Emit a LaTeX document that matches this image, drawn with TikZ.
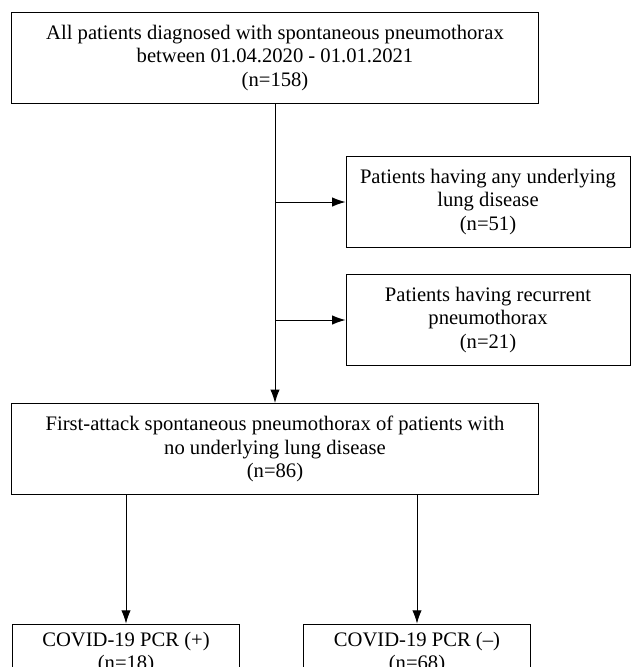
\documentclass[tikz,border=0pt]{standalone}
\usepackage{fontspec}
\setmainfont{Liberation Serif}
\usetikzlibrary{arrows.meta,positioning}
\tikzset{%
	process/.style  = {draw, rectangle, semithick, align=center, inner sep=0pt, minimum height=20.5mm, font=\fontsize{13.2}{14.8}\selectfont},
	widebox/.style  = {process, minimum width=118.4mm},
	sidebox/.style  = {process, minimum width=63.9mm},
	pcrbox/.style   = {process, minimum width=51mm, minimum height=13mm},
	arrow/.style    = {semithick, -{Latex[length=3mm,width=2.1mm]}},
}

\begin{document}
\begin{tikzpicture}[x=0.225mm,y=-0.225mm]
			\useasboundingbox (0,0) rectangle (642,667);
			\node[widebox] (all) at (275,58) {All patients diagnosed with spontaneous pneumothorax\\between 01.04.2020 - 01.01.2021\\(n=158)};
			\node[sidebox] (lung) at (488,202) {Patients having any underlying\\lung disease\\(n=51)};
			\node[sidebox] (recur) at (488,320) {Patients having recurrent\\pneumothorax\\(n=21)};
			\node[widebox] (first) at (275,449) {First-attack spontaneous pneumothorax of patients with\\no underlying lung disease\\(n=86)};
			\node[pcrbox] (pos) at (126,653) {COVID-19 PCR (+)\\(n=18)};
			\node[pcrbox] (neg) at (417,653) {COVID-19 PCR (--)\\(n=68)};
			
			\draw[arrow] (all.south) -- (first.north);
			\draw[arrow] (all.south |- lung.west) -- (lung.west);
			\draw[arrow] (all.south |- recur.west) -- (recur.west);
			\draw[arrow] (first.south -| pos.north) -- (pos.north);
			\draw[arrow] (first.south -| neg.north) -- (neg.north);
			\end{tikzpicture}
\end{document}
